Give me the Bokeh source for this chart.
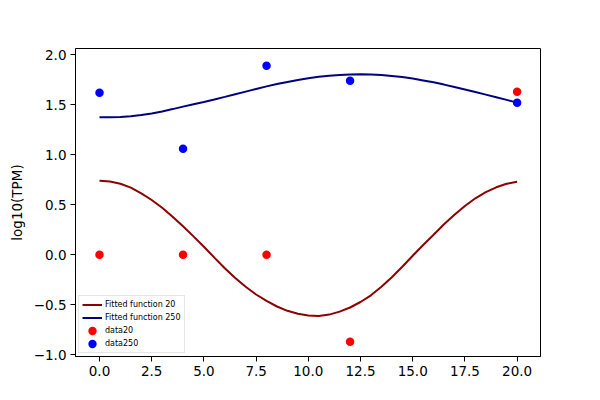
from bokeh.plotting import figure
from bokeh.models import Range1d, FixedTicker, CustomJSTickFormatter, Legend, LegendItem
from bokeh.embed import file_html
from bokeh.resources import INLINE

# Measured data points
data_x = [0, 4, 8, 12, 20]
data20 = [0.0, 0.0, 0.0, -0.87, 1.63]
data250 = [1.62, 1.06, 1.89, 1.74, 1.52]

# Fitted curves, every 0.5 on x
fit_x = [i * 0.5 for i in range(41)]
fit20 = [0.74, 0.733, 0.71, 0.672, 0.615, 0.548, 0.47, 0.38, 0.285, 0.184,
         0.08, -0.028, -0.134, -0.232, -0.32, -0.397, -0.46, -0.517, -0.56, -0.59,
         -0.607, -0.613, -0.598, -0.568, -0.527, -0.472, -0.405, -0.32, -0.225, -0.12,
         -0.01, 0.098, 0.20, 0.305, 0.40, 0.488, 0.565, 0.627, 0.675, 0.71, 0.73]
fit250 = [1.375, 1.376, 1.379, 1.386, 1.398, 1.414, 1.434, 1.457, 1.482, 1.506,
          1.528, 1.553, 1.579, 1.606, 1.632, 1.658, 1.684, 1.708, 1.729, 1.749,
          1.766, 1.780, 1.791, 1.799, 1.804, 1.806, 1.804, 1.798, 1.789, 1.777,
          1.762, 1.744, 1.725, 1.702, 1.678, 1.653, 1.628, 1.602, 1.576, 1.549, 1.522]

x_ticks = [0, 2.5, 5, 7.5, 10, 12.5, 15, 17.5, 20]
y_ticks = [-1.0, -0.5, 0.0, 0.5, 1.0, 1.5, 2.0]

FONT = "DejaVu Sans"

p = figure(width=584, height=384, output_backend="svg", toolbar_location=None,
           x_range=Range1d(-1.15, 21.12), y_range=Range1d(-1.017, 2.063),
           min_border_left=75, min_border_right=44, min_border_top=48, min_border_bottom=28)

p.background_fill_color = "white"
p.border_fill_color = "white"
p.outline_line_color = "black"
p.outline_line_width = 1
p.xgrid.visible = False
p.ygrid.visible = False

fmt = CustomJSTickFormatter(code="return tick.toFixed(1).replace('-', '\u2212');")
for ax, ticks in ((p.xaxis, x_ticks), (p.yaxis, y_ticks)):
    ax.ticker = FixedTicker(ticks=ticks)
    ax.formatter = fmt
    ax.major_tick_in = 0
    ax.major_tick_out = 5
    ax.minor_tick_line_color = None
    ax.major_label_text_font = FONT
    ax.major_label_text_font_size = "13.5px"
    ax.major_label_text_color = "black"
    ax.axis_line_color = "black"
    ax.major_tick_line_color = "black"
    ax.major_label_standoff = 4

p.yaxis.axis_label = "log10(TPM)"
p.yaxis.axis_label_text_font = FONT
p.yaxis.axis_label_text_font_size = "13.5px"
p.yaxis.axis_label_text_font_style = "normal"
p.yaxis.axis_label_text_color = "black"
p.yaxis.axis_label_standoff = 6

r_f20 = p.line(fit_x, fit20, line_color="#8b0000", line_width=2)
r_f250 = p.line(fit_x, fit250, line_color="#000080", line_width=2)
# small marker + thick outline => ~8.5px dots, and a visible legend swatch
r_d20 = p.scatter(data_x, data20, size=4.5, fill_color="#ff0000", line_color="#ff0000", line_width=4)
r_d250 = p.scatter(data_x, data250, size=4.5, fill_color="#0000ff", line_color="#0000ff", line_width=4)

lg = Legend(items=[
    LegendItem(label="Fitted function 20", renderers=[r_f20]),
    LegendItem(label="Fitted function 250", renderers=[r_f250]),
    LegendItem(label="data20", renderers=[r_d20]),
    LegendItem(label="data250", renderers=[r_d250]),
])
lg.location = "bottom_left"
lg.margin = 3
lg.padding = 3
lg.spacing = 2
lg.label_text_font = FONT
lg.label_text_font_size = "8px"
lg.label_text_color = "black"
lg.label_height = 11
lg.glyph_height = 11
lg.glyph_width = 20
lg.label_standoff = 3
lg.border_line_color = "#cccccc"
lg.border_line_width = 1
lg.background_fill_alpha = 0.8
p.add_layout(lg)

open("out.html", "w").write(file_html(p, INLINE))
